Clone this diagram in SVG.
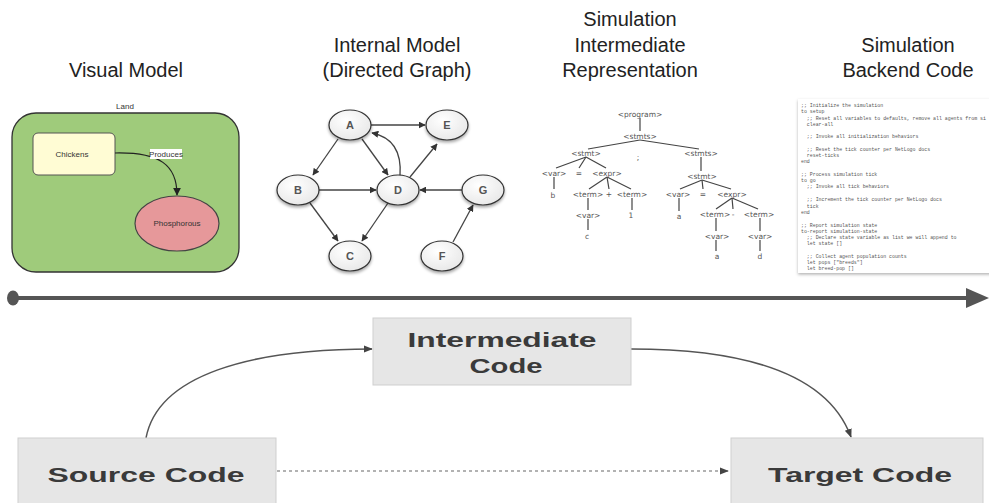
<svg xmlns="http://www.w3.org/2000/svg" width="989" height="503" viewBox="0 0 989 503">
<style>
.hdr{font-family:"Liberation Sans",Arial,sans-serif;font-size:20px;fill:#222;text-anchor:middle}
.sm{font-family:"Liberation Sans",Arial,sans-serif;font-size:8px;fill:#333;text-anchor:middle}
.gn{fill:url(#ng);stroke:#333;stroke-width:1.2;filter:url(#sh)}
.gl{font-family:"Liberation Sans",Arial,sans-serif;font-size:11px;font-weight:bold;fill:#555;text-anchor:middle}
.ge{fill:none;stroke:#444;stroke-width:1.3;marker-end:url(#ga)}
.tt{font-family:"DejaVu Sans",sans-serif;font-size:7.5px;fill:#555;text-anchor:middle}
.tl{stroke:#444;stroke-width:1.2}
.code{font-family:"Liberation Mono",monospace;font-size:4.9px;fill:#555;white-space:pre}
.box{fill:#e6e6e6;stroke:#cfcfcf;stroke-width:1}
.bt{font-family:"Liberation Sans",Arial,sans-serif;font-weight:bold;font-size:21px;fill:#3a3a3a;text-anchor:middle}
.cn{fill:none;stroke:#555;stroke-width:1.5}
</style>
<defs>
<radialGradient id="ng" cx="0.4" cy="0.35" r="0.8"><stop offset="0" stop-color="#ffffff"/><stop offset="1" stop-color="#e4e4e4"/></radialGradient>
<filter id="sh" x="-30%" y="-30%" width="160%" height="170%"><feDropShadow dx="0" dy="2" stdDeviation="1.5" flood-color="#000" flood-opacity="0.35"/></filter>
<filter id="psh" x="-10%" y="-10%" width="120%" height="120%"><feDropShadow dx="0" dy="1.5" stdDeviation="1.5" flood-color="#000" flood-opacity="0.3"/></filter>
<marker id="ga" viewBox="0 0 10 10" refX="9" refY="5" markerWidth="7" markerHeight="7" markerUnits="userSpaceOnUse" orient="auto"><path d="M0,0 L10,5 L0,10 z" fill="#333"/></marker>
<marker id="ba" viewBox="0 0 10 10" refX="9" refY="5" markerWidth="9" markerHeight="9" markerUnits="userSpaceOnUse" orient="auto"><path d="M0,1 L10,5 L0,9 z" fill="#444"/></marker>
<marker id="va" viewBox="0 0 10 10" refX="9" refY="5" markerWidth="8" markerHeight="8" markerUnits="userSpaceOnUse" orient="auto"><path d="M0,0 L10,5 L0,10 z" fill="#222"/></marker>
</defs>
<rect width="989" height="503" fill="#fff"/>

<g id="headers">
<text class="hdr" x="126" y="77">Visual Model</text>
<text class="hdr" x="397" y="52">Internal Model</text>
<text class="hdr" x="397" y="77">(Directed Graph)</text>
<text class="hdr" x="630" y="26">Simulation</text>
<text class="hdr" x="630" y="52">Intermediate</text>
<text class="hdr" x="630" y="77">Representation</text>
<text class="hdr" x="908" y="52">Simulation</text>
<text class="hdr" x="908" y="77">Backend Code</text>
</g>

<g id="visual-model">
<text class="sm" x="125" y="109">Land</text>
<rect id="land" x="12" y="113" width="227" height="159" rx="24" fill="#9fcb7b" stroke="#333" stroke-width="1.3"/>
<g id="chickens"><rect x="33" y="133" width="82" height="42" rx="5" fill="#fffcd4" stroke="#555" stroke-width="1"/><text class="sm" x="72" y="157">Chickens</text></g>
<g id="phosphorous"><ellipse cx="177" cy="223.5" rx="42" ry="27.5" fill="#e6989a" stroke="#444" stroke-width="1.2"/><text class="sm" x="177" y="226">Phosphorous</text></g>
<g id="produces"><path d="M115,153 C160,152 177,165 177,195" fill="none" stroke="#222" stroke-width="1.2" marker-end="url(#va)"/><rect x="150" y="149" width="32" height="10" fill="#fff"/><text class="sm" x="166" y="157">Produces</text></g>
</g>

<g id="graph-edges">
<line class="ge" x1="371" y1="125" x2="425" y2="125"/>
<line class="ge" x1="338" y1="139" x2="313" y2="175"/>
<line class="ge" x1="362" y1="139" x2="388" y2="175"/>
<path class="ge" d="M400,176 C402,150 392,137 372,133"/>
<line class="ge" x1="410" y1="177" x2="437" y2="144"/>
<line class="ge" x1="319" y1="190" x2="376" y2="190"/>
<line class="ge" x1="462" y1="190" x2="420" y2="190"/>
<line class="ge" x1="310" y1="203" x2="338" y2="241"/>
<line class="ge" x1="388" y1="203" x2="362" y2="241"/>
<line class="ge" x1="453" y1="242" x2="473" y2="205"/>
</g>
<g id="node-A"><ellipse class="gn" cx="350" cy="125" rx="21" ry="15"/><text class="gl" x="350" y="129">A</text></g>
<g id="node-E"><ellipse class="gn" cx="447" cy="125" rx="21" ry="15"/><text class="gl" x="447" y="129">E</text></g>
<g id="node-B"><ellipse class="gn" cx="298" cy="190" rx="21" ry="15"/><text class="gl" x="298" y="194">B</text></g>
<g id="node-D"><ellipse class="gn" cx="398" cy="190" rx="21" ry="15"/><text class="gl" x="398" y="194">D</text></g>
<g id="node-G"><ellipse class="gn" cx="483" cy="190" rx="21" ry="15"/><text class="gl" x="483" y="194">G</text></g>
<g id="node-C"><ellipse class="gn" cx="350" cy="256" rx="21" ry="15"/><text class="gl" x="350" y="260">C</text></g>
<g id="node-F"><ellipse class="gn" cx="442" cy="256" rx="21" ry="15"/><text class="gl" x="442" y="260">F</text></g>

<g id="tree-lines">
<line class="tl" x1="640" y1="118" x2="640" y2="131"/>
<line class="tl" x1="640" y1="140" x2="588" y2="149"/>
<line class="tl" x1="640" y1="140" x2="699" y2="149"/>
<line class="tl" x1="586" y1="157" x2="556" y2="168"/>
<line class="tl" x1="586" y1="157" x2="579" y2="168"/>
<line class="tl" x1="586" y1="157" x2="606" y2="168"/>
<line class="tl" x1="554" y1="177" x2="554" y2="189"/>
<line class="tl" x1="607" y1="177" x2="589" y2="189"/>
<line class="tl" x1="607" y1="177" x2="609" y2="189"/>
<line class="tl" x1="607" y1="177" x2="631" y2="189"/>
<line class="tl" x1="588" y1="198" x2="588" y2="210"/>
<line class="tl" x1="588" y1="219" x2="588" y2="230"/>
<line class="tl" x1="632" y1="198" x2="632" y2="210"/>
<line class="tl" x1="701" y1="157" x2="701" y2="171"/>
<line class="tl" x1="702" y1="180" x2="680" y2="189"/>
<line class="tl" x1="702" y1="180" x2="703" y2="189"/>
<line class="tl" x1="702" y1="180" x2="731" y2="189"/>
<line class="tl" x1="679" y1="198" x2="679" y2="211"/>
<line class="tl" x1="732" y1="198" x2="716" y2="209"/>
<line class="tl" x1="732" y1="198" x2="733" y2="209"/>
<line class="tl" x1="732" y1="198" x2="758" y2="209"/>
<line class="tl" x1="716" y1="218" x2="716" y2="231"/>
<line class="tl" x1="716" y1="240" x2="716" y2="251"/>
<line class="tl" x1="760" y1="218" x2="760" y2="231"/>
<line class="tl" x1="760" y1="240" x2="760" y2="251"/>
</g>
<g id="tree-nodes">
<text class="tt" x="640" y="117">&lt;program&gt;</text>
<text class="tt" x="640" y="139">&lt;stmts&gt;</text>
<text class="tt" x="586" y="156">&lt;stmt&gt;</text>
<text class="tt" x="638" y="160">;</text>
<text class="tt" x="701" y="156">&lt;stmts&gt;</text>
<text class="tt" x="554" y="176">&lt;var&gt;</text>
<text class="tt" x="579" y="176">=</text>
<text class="tt" x="607" y="176">&lt;expr&gt;</text>
<text class="tt" x="553" y="198">b</text>
<text class="tt" x="588" y="197">&lt;term&gt;</text>
<text class="tt" x="609" y="197">+</text>
<text class="tt" x="632" y="197">&lt;term&gt;</text>
<text class="tt" x="588" y="218">&lt;var&gt;</text>
<text class="tt" x="587" y="239">c</text>
<text class="tt" x="631" y="218">1</text>
<text class="tt" x="702" y="179">&lt;stmt&gt;</text>
<text class="tt" x="678" y="197">&lt;var&gt;</text>
<text class="tt" x="703" y="197">=</text>
<text class="tt" x="732" y="197">&lt;expr&gt;</text>
<text class="tt" x="679" y="219">a</text>
<text class="tt" x="715" y="217">&lt;term&gt;</text>
<text class="tt" x="733" y="217">-</text>
<text class="tt" x="759" y="217">&lt;term&gt;</text>
<text class="tt" x="717" y="239">&lt;var&gt;</text>
<text class="tt" x="717" y="259">a</text>
<text class="tt" x="760" y="239">&lt;var&gt;</text>
<text class="tt" x="760" y="259">d</text>
</g>

<g id="backend-code">
<rect x="798" y="99" width="200" height="174" fill="#fff" filter="url(#psh)"/>
<text class="code" x="801" y="107">;; Initialize the simulation</text>
<text class="code" x="801" y="113">to setup</text>
<text class="code" x="801" y="120">  ;; Reset all variables to defaults, remove all agents from si</text>
<text class="code" x="801" y="126">  clear-all</text>
<text class="code" x="801" y="138">  ;; Invoke all initialization behaviors</text>
<text class="code" x="801" y="151">  ;; Reset the tick counter per NetLogo docs</text>
<text class="code" x="801" y="157">  reset-ticks</text>
<text class="code" x="801" y="163">end</text>
<text class="code" x="801" y="176">;; Process simulation tick</text>
<text class="code" x="801" y="182">to go</text>
<text class="code" x="801" y="188">  ;; Invoke all tick behaviors</text>
<text class="code" x="801" y="201">  ;; Increment the tick counter per NetLogo docs</text>
<text class="code" x="801" y="208">  tick</text>
<text class="code" x="801" y="214">end</text>
<text class="code" x="801" y="227">;; Report simulation state</text>
<text class="code" x="801" y="233">to-report simulation-state</text>
<text class="code" x="801" y="239">  ;; Declare state variable as list we will append to</text>
<text class="code" x="801" y="245">  let state []</text>
<text class="code" x="801" y="258">  ;; Collect agent population counts</text>
<text class="code" x="801" y="264">  let pops ["breeds"]</text>
<text class="code" x="801" y="270">  let breed-pop []</text>
</g>

<g id="timeline">
<line x1="14" y1="298" x2="968" y2="298" stroke="#555" stroke-width="4"/>
<ellipse cx="13" cy="298" rx="6" ry="7.5" fill="#555"/>
<polygon points="966,288 989,298 966,308" fill="#555"/>
</g>

<g id="connectors">
<path class="cn" d="M146,438 C158,375 250,349 372,349" marker-end="url(#ba)"/>
<path class="cn" d="M631,349 C760,349 830,380 851,437" marker-end="url(#ba)"/>
<line x1="277" y1="471" x2="728" y2="471" stroke="#666" stroke-width="1.2" stroke-dasharray="3,3" marker-end="url(#ba)"/>
</g>
<g id="intermediate-code"><rect class="box" x="373" y="318" width="258" height="67"/><text class="bt" x="502" y="347" textLength="189" lengthAdjust="spacingAndGlyphs">Intermediate</text><text class="bt" x="506" y="373" textLength="73" lengthAdjust="spacingAndGlyphs">Code</text></g>
<g id="source-code"><rect class="box" x="18" y="438" width="258" height="72"/><text class="bt" x="146" y="482" textLength="197" lengthAdjust="spacingAndGlyphs">Source Code</text></g>
<g id="target-code"><rect class="box" x="731" y="438" width="252" height="72"/><text class="bt" x="860" y="482" textLength="184" lengthAdjust="spacingAndGlyphs">Target Code</text></g>
</svg>
